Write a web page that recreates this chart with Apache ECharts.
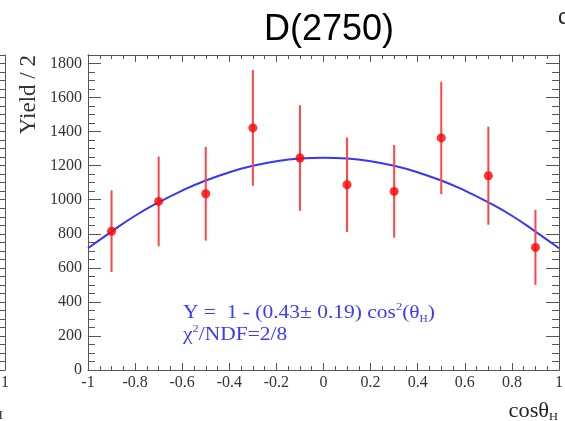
<!DOCTYPE html>
<html>
<head>
<meta charset="utf-8">
<script src="https://cdn.jsdelivr.net/npm/echarts@6/dist/echarts.min.js"></script>
<style>
  html, body { margin: 0; padding: 0; background: #fff; }
  #chart { width: 565px; height: 421px; }
</style>
</head>
<body>
<div id="chart"></div>
<script>
// Angular distribution: bin centres in cos(theta_H)
const cosTheta = [-0.9, -0.7, -0.5, -0.3, -0.1, 0.1, 0.3, 0.5, 0.7, 0.9];
// Yield per bin and its symmetric uncertainty
const yields = [815, 990, 1035, 1422, 1245, 1088, 1049, 1363, 1141, 720];
const yieldErrors = [240, 263, 275, 340, 310, 278, 272, 330, 288, 220];
// Fitted curve sampled along cos(theta_H)
const fitX = [-1, -0.9, -0.8, -0.7, -0.6, -0.5, -0.4, -0.3, -0.2, -0.1, 0,
              0.1, 0.2, 0.3, 0.4, 0.5, 0.6, 0.7, 0.8, 0.9, 1];
const fitY = [715, 813, 906, 985, 1054, 1113, 1161, 1199, 1226, 1242, 1247,
              1242, 1226, 1199, 1161, 1113, 1054, 985, 906, 813, 715];

const SERIF = 'Liberation Serif';
const FRAME = '#555';
const Y_MAX = 1850;

const chart = echarts.init(document.getElementById('chart'), null, { renderer: 'canvas' });

const frameLine = { show: true, onZero: false, lineStyle: { color: FRAME, width: 1 } };
const tickLabel = { fontFamily: SERIF, fontSize: 16, color: '#333' };
const fmtX = v => String(+v.toFixed(1));
const fmtY = v => String(Math.round(v));

function yAxisDef(opts) {
  return Object.assign({
    type: 'value', gridIndex: 0, min: 0, max: Y_MAX, interval: 200,
    axisLine: frameLine, splitLine: { show: false },
    axisTick: { show: true, inside: true, length: 13, lineStyle: { color: FRAME } },
    axisLabel: { show: false }
  }, opts);
}
const minorYTick = { show: true, inside: true, length: 7, lineStyle: { color: FRAME } };

const option = {
  animation: false,
  backgroundColor: '#fff',
  grid: [
    { left: 88, right: 6, top: 55, bottom: 51, outerBoundsMode: 'none', containLabel: false },
    // right-hand edge of the neighbouring panel
    { left: -466, right: 560, top: 55, bottom: 51, outerBoundsMode: 'none', containLabel: false }
  ],
  xAxis: [
    {
      type: 'value', gridIndex: 0, position: 'bottom', min: -1, max: 1, interval: 0.2,
      axisLine: frameLine, splitLine: { show: false },
      axisTick: { show: true, inside: true, length: 7, lineStyle: { color: FRAME } },
      minorTick: { show: true, splitNumber: 4, length: 4, lineStyle: { color: FRAME } },
      axisLabel: Object.assign({ margin: 5, formatter: fmtX }, tickLabel)
    },
    {
      type: 'value', gridIndex: 0, position: 'top', min: -1, max: 1, interval: 0.2,
      axisLine: frameLine, splitLine: { show: false },
      axisTick: { show: true, inside: true, length: 7, lineStyle: { color: FRAME } },
      minorTick: { show: true, splitNumber: 4, length: 4, lineStyle: { color: FRAME } },
      axisLabel: { show: false }
    },
    {
      type: 'value', gridIndex: 1, position: 'bottom', min: -1, max: 1, interval: 0.2,
      axisLine: frameLine, splitLine: { show: false },
      axisTick: { show: true, inside: true, length: 7, lineStyle: { color: FRAME } },
      axisLabel: Object.assign({ margin: 5, formatter: fmtX }, tickLabel)
    },
    {
      type: 'value', gridIndex: 1, position: 'top', min: -1, max: 1, interval: 0.2,
      axisLine: frameLine, splitLine: { show: false },
      axisTick: { show: false }, axisLabel: { show: false }
    }
  ],
  yAxis: [
    yAxisDef({
      position: 'left',
      axisLabel: Object.assign({ show: true, margin: 6, showMaxLabel: false, formatter: fmtY }, tickLabel)
    }),
    yAxisDef({ position: 'left', interval: 50, axisTick: minorYTick }),
    yAxisDef({ position: 'right' }),
    yAxisDef({ position: 'right', interval: 50, axisTick: minorYTick }),
    yAxisDef({ gridIndex: 1, position: 'right', interval: 50, axisTick: minorYTick })
  ],
  series: [
    {
      type: 'line', xAxisIndex: 0, yAxisIndex: 0, z: 2,
      data: fitX.map((x, i) => [x, fitY[i]]),
      smooth: true, showSymbol: false, symbol: 'none',
      lineStyle: { color: '#3535ff', width: 2 }
    },
    {
      type: 'custom', xAxisIndex: 0, yAxisIndex: 0, z: 3,
      data: cosTheta.map((x, i) => [x, yields[i], yieldErrors[i]]),
      renderItem: function (params, api) {
        const x = api.value(0), y = api.value(1), e = api.value(2);
        const hi = api.coord([x, y + e]);
        const lo = api.coord([x, y - e]);
        return {
          type: 'line',
          shape: { x1: hi[0], y1: hi[1], x2: lo[0], y2: lo[1] },
          style: { stroke: '#ff4545', lineWidth: 2 }
        };
      }
    },
    {
      type: 'scatter', xAxisIndex: 0, yAxisIndex: 0, z: 4,
      data: cosTheta.map((x, i) => [x, yields[i]]),
      symbol: 'circle', symbolSize: 9,
      itemStyle: { color: '#ff0000' }
    }
  ],
  graphic: [
    {
      type: 'text', x: 329, y: 30, z: 10,
      style: { text: 'D(2750)', font: '36px "Liberation Sans"', fill: '#000',
               align: 'center', verticalAlign: 'middle' }
    },
    {
      type: 'text', x: 28.5, y: 55, rotation: Math.PI / 2, z: 10,
      style: { text: 'Yield / 2', font: '23px "Liberation Serif"', fill: '#333',
               align: 'right', verticalAlign: 'middle' }
    },
    {
      type: 'text', x: 558, y: 412, z: 10, scaleX: 1.12,
      style: {
        text: '{a|cosθ}{s|H}', align: 'right', verticalAlign: 'middle',
        rich: {
          a: { fontFamily: SERIF, fontSize: 20, lineHeight: 22, fill: '#222' },
          s: { fontFamily: SERIF, fontSize: 11, lineHeight: 10, verticalAlign: 'bottom', fill: '#222' }
        }
      }
    },
    {
      type: 'text', x: 183, y: 313, z: 10, scaleX: 1.13,
      style: {
        text: '{a|Y =  1 - (0.43± 0.19) cos}{p|2}{a|(θ}{s|H}{a|)}',
        align: 'left', verticalAlign: 'middle',
        rich: {
          a: { fontFamily: SERIF, fontSize: 19, lineHeight: 22, fill: '#3b3bff' },
          p: { fontFamily: SERIF, fontSize: 11, lineHeight: 12, verticalAlign: 'top', fill: '#3b3bff' },
          s: { fontFamily: SERIF, fontSize: 10, lineHeight: 10, verticalAlign: 'bottom', fill: '#3b3bff' }
        }
      }
    },
    {
      type: 'text', x: 183, y: 335, z: 10, scaleX: 1.13,
      style: {
        text: '{a|χ}{p|2}{a|/NDF=2/8}',
        align: 'left', verticalAlign: 'middle',
        rich: {
          a: { fontFamily: SERIF, fontSize: 19, lineHeight: 22, fill: '#3b3bff' },
          p: { fontFamily: SERIF, fontSize: 11, lineHeight: 12, verticalAlign: 'top', fill: '#3b3bff' }
        }
      }
    },
    {
      type: 'text', x: 558, y: 18, z: 10,
      style: { text: 'c', font: '22px "Liberation Sans"', fill: '#222', verticalAlign: 'middle' }
    },
    {
      type: 'text', x: -6, y: 416, z: 10,
      style: { text: 'H', font: '12px "Liberation Serif"', fill: '#222', verticalAlign: 'middle' }
    }
  ]
};

chart.setOption(option);
</script>
</body>
</html>
